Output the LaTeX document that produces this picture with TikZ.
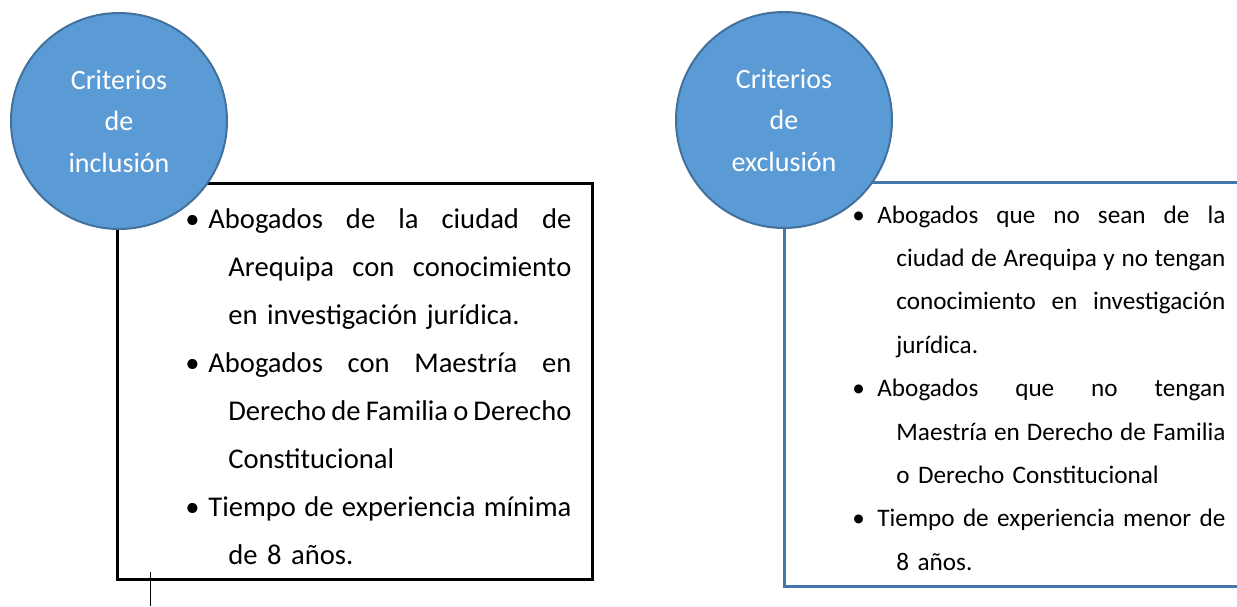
\documentclass[tikz,border=0pt]{standalone}
\usepackage{fontspec}
\setmainfont{Carlito}
\usepackage{tikz}
\definecolor{critfill}{RGB}{91,155,213}
\definecolor{critline}{RGB}{65,113,156}
\definecolor{exline}{RGB}{70,120,170}

% justified line, hanging line and bullet line
\newcommand{\jline}[2]{\hbox to #1{\spaceskip=0.226em plus 1fil minus 0.14em\relax #2}}
\newcommand{\bul}[1]{\makebox[#1][l]{\textbullet}}

\tikzset{
  crit/.style={circle, draw=critline, line width=1pt, fill=critfill,
    minimum size=108pt, inner sep=0pt, text=white, align=center,
    font=\fontsize{14}{20.75}\selectfont},
  inclist/.style={anchor=base west, inner sep=0pt, text width=200pt,
    font=\fontsize{14.3}{24}\selectfont},
  exclist/.style={anchor=base west, inner sep=0pt, text width=195pt,
    font=\fontsize{12.6}{21.7}\selectfont},
}

\begin{document}
\begin{tikzpicture}[x=0.5pt,y=-0.5pt]
	\useasboundingbox (0,0) rectangle (1237,606);
	\clip (0,0) rectangle (1237,606);

	% boxes
	\draw[line width=1.5pt, color=black] (117,183) rectangle (592,579);
	\draw[line width=1.5pt, color=exline] (1260,182) -- (784,182) -- (784,586) -- (1260,586);

	% texts
	\node[inclist] at (185,228) (inc) {%
		\bul{11.5pt}\jline{181.5pt}{Abogados de la ciudad de}\\
		\hspace*{21.5pt}\jline{171.5pt}{Arequipa con conocimiento}\\
		\hspace*{21.5pt}en investigación jurídica.\\
		\bul{11.5pt}\jline{181.5pt}{Abogados con Maestría en}\\
		\hspace*{21.5pt}\jline{171.5pt}{Derecho de Familia o Derecho}\\
		\hspace*{21.5pt}Constitucional\\
		\bul{11.5pt}\jline{181.5pt}{Tiempo de experiencia mínima}\\
		\hspace*{21.5pt}de 8 años.};
	\node[exclist] at (852,223) (exc) {%
		\bul{12.5pt}\jline{174pt}{Abogados que no sean de la}\\
		\hspace*{22pt}\jline{164.5pt}{ciudad de Arequipa y no tengan}\\
		\hspace*{22pt}\jline{164.5pt}{conocimiento en investigación}\\
		\hspace*{22pt}jurídica.\\
		\bul{12.5pt}\jline{174pt}{Abogados que no tengan}\\
		\hspace*{22pt}\jline{164.5pt}{Maestría en Derecho de Familia}\\
		\hspace*{22pt}o Derecho Constitucional\\
		\bul{12.5pt}\jline{174pt}{Tiempo de experiencia menor de}\\
		\hspace*{22pt}8 años.};

	% circles
	\node[crit] at (119,121) (cinc) {Criterios\\de\\inclusión};
	\node[crit] at (784,120) (cexc) {Criterios\\de\\exclusión};

	% stub below the left box
	\coordinate (stubtop) at (150,572);
	\coordinate (stubend) at (150,606);
	\draw[line width=0.5pt] (stubtop) -- (stubend);
\end{tikzpicture}
\end{document}
